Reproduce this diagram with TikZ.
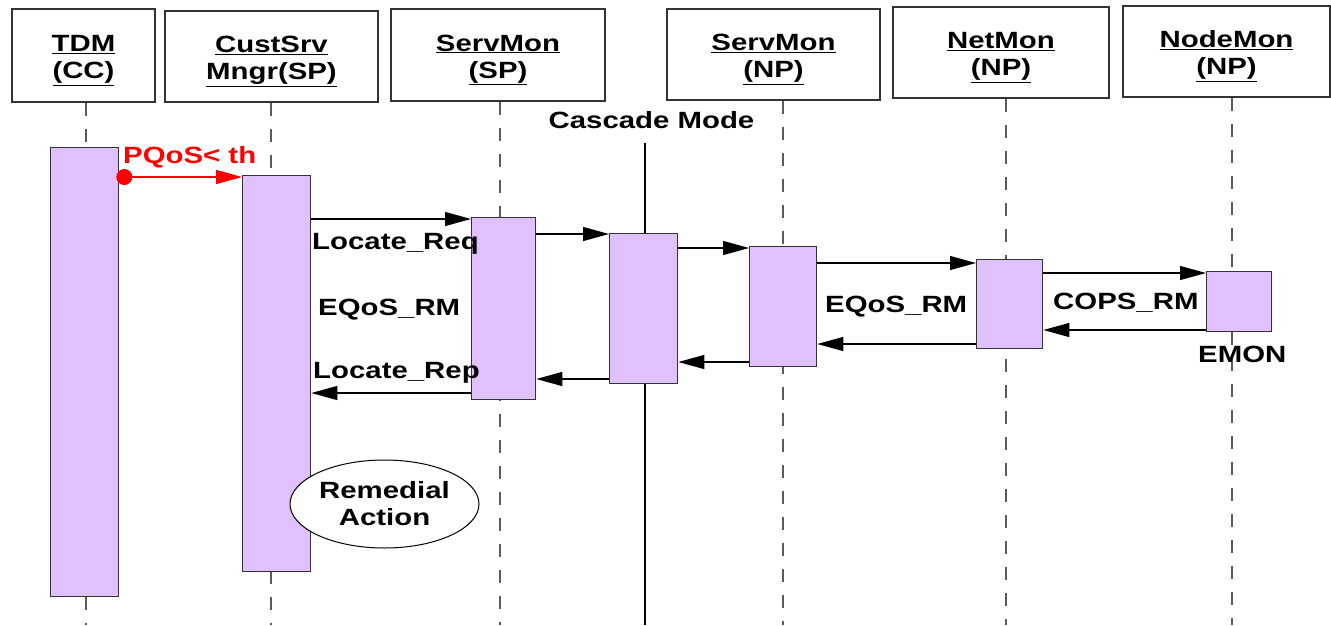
\documentclass[tikz,border=0pt]{standalone}
\usepackage{fontspec}
\newfontfamily\diafont{Liberation Sans}[FakeStretch=1.25]
\usetikzlibrary{arrows.meta,shapes.geometric}
\definecolor{actfill}{RGB}{223,193,254}
\definecolor{edgegray}{RGB}{51,51,51}
\definecolor{lifegray}{RGB}{90,90,90}
\newcommand{\hstrut}{\rule{0pt}{26pt}}
\tikzset{
  txt/.style={font=\diafont\bfseries\fontsize{23.5}{27}\selectfont},
  hdr/.style={txt, draw=edgegray, line width=1.3pt, fill=white, inner sep=0pt, align=center},
  act/.style={draw=edgegray, line width=1.3pt, fill=actfill, inner sep=0pt, anchor=north west},
  life/.style={draw=lifegray, line width=1.1pt, dash pattern=on 13pt off 13pt},
  msg/.style={draw=black, line width=1.2pt, -{Triangle[length=26pt,width=14pt]}},
  lbl/.style={txt, inner sep=0pt, anchor=base west},
}
\begin{document}
\begin{tikzpicture}[x=1pt,y=-1pt]
\useasboundingbox (0,0) rectangle (1331,625);

% object headers
\node[hdr, minimum width=143, minimum height=93] (tdm)  at (83.5,55.5)  {\hstrut\underline{TDM}\\\underline{(CC)}};
\node[hdr, minimum width=213, minimum height=91] (css)  at (271.5,56.5) {\hstrut\underline{CustSrv}\\\underline{Mngr(SP)}};
\node[hdr, minimum width=214, minimum height=92] (smsp) at (498,55)     {\hstrut\underline{ServMon}\\\underline{(SP)}};
\node[hdr, minimum width=213, minimum height=91] (smnp) at (773.5,54.5) {\hstrut\underline{ServMon}\\\underline{(NP)}};
\node[hdr, minimum width=216, minimum height=91] (net)  at (1001,52.5)  {\hstrut\underline{NetMon}\\\underline{(NP)}};
\node[hdr, minimum width=207, minimum height=91] (nmon) at (1226.5,51.5){\hstrut\underline{NodeMon}\\\underline{(NP)}};

% lifeline positions
\coordinate (l1) at (86,0);
\coordinate (l2) at (271,0);
\coordinate (l3) at (500,0);
\coordinate (l4) at (783,0);
\coordinate (l5) at (1006,0);
\coordinate (l6) at (1232,0);

\draw[life] (tdm.south -| l1)  -- (l1 |- 0,625);
\draw[life] (css.south -| l2)  -- (l2 |- 0,625);
\draw[life] (smsp.south -| l3) -- (l3 |- 0,625);
\draw[life] (smnp.south -| l4) -- (l4 |- 0,625);
\draw[life] (net.south -| l5)  -- (l5 |- 0,625);
\draw[life] (nmon.south -| l6) -- (l6 |- 0,625);

% cascade mode separator
\node[txt, inner sep=0pt, anchor=base] (cascade) at (651.5,128) {Cascade Mode};
\coordinate (castop) at (645,143);
\draw[line width=1.1pt] (castop) -- (castop |- 0,625);

% activation bars
\node[act, minimum width=68, minimum height=449] (tdmact)  at (50,147)  {};
\node[act, minimum width=68, minimum height=396] (cssact)  at (242,175) {};
\node[act, minimum width=64, minimum height=182] (smspact) at (471,217) {};
\node[act, minimum width=68, minimum height=150] (casact)  at (609,233) {};
\node[act, minimum width=67, minimum height=120] (npact)   at (749,246) {};
\node[act, minimum width=66, minimum height=89]  (netact)  at (976,259) {};
\node[act, minimum width=65, minimum height=60]  (nodeact) at (1206,271){};

% trigger message
\draw[red, line width=1.2pt, {Circle[length=16pt]}-{Triangle[length=26pt,width=14pt]}, shorten <=-3pt]
  (tdmact.east |- 0,177) -- (cssact.west |- 0,177);

% requests
\draw[msg] (cssact.east |- 0,219)  -- (smspact.west |- 0,219);
\draw[msg] (smspact.east |- 0,234) -- (casact.west |- 0,234);
\draw[msg] (casact.east |- 0,248)  -- (npact.west |- 0,248);
\draw[msg] (npact.east |- 0,263)   -- (netact.west |- 0,263);
\draw[msg] (netact.east |- 0,273)  -- (nodeact.west |- 0,273);

% replies
\draw[msg] (nodeact.west |- 0,330) -- (netact.east |- 0,330);
\draw[msg] (netact.west |- 0,344)  -- (npact.east |- 0,344);
\draw[msg] (npact.west |- 0,362)   -- (casact.east |- 0,362);
\draw[msg] (casact.west |- 0,379)  -- (smspact.east |- 0,379);
\draw[msg] (smspact.west |- 0,393) -- (cssact.east |- 0,393);

% labels
\node[lbl, text=red] (pqos) at (123,163) {PQoS< th};
\node[lbl] (locreq) at (312,249) {Locate\_Req};
\node[lbl] (eqos1)  at (318,315) {EQoS\_RM};
\node[lbl] (locrep) at (313,378) {Locate\_Rep};
\node[lbl] (eqos2)  at (825,312) {EQoS\_RM};
\node[lbl] (cops)   at (1053,309) {COPS\_RM};
\node[lbl] (emon)   at (1198,362) {EMON};

% remedial action
\node[ellipse, draw=black, line width=1pt, fill=white, minimum width=189, minimum height=88,
      inner sep=0pt, align=center, txt] (remedy) at (384.5,504) {Remedial\\Action};
\end{tikzpicture}
\end{document}
